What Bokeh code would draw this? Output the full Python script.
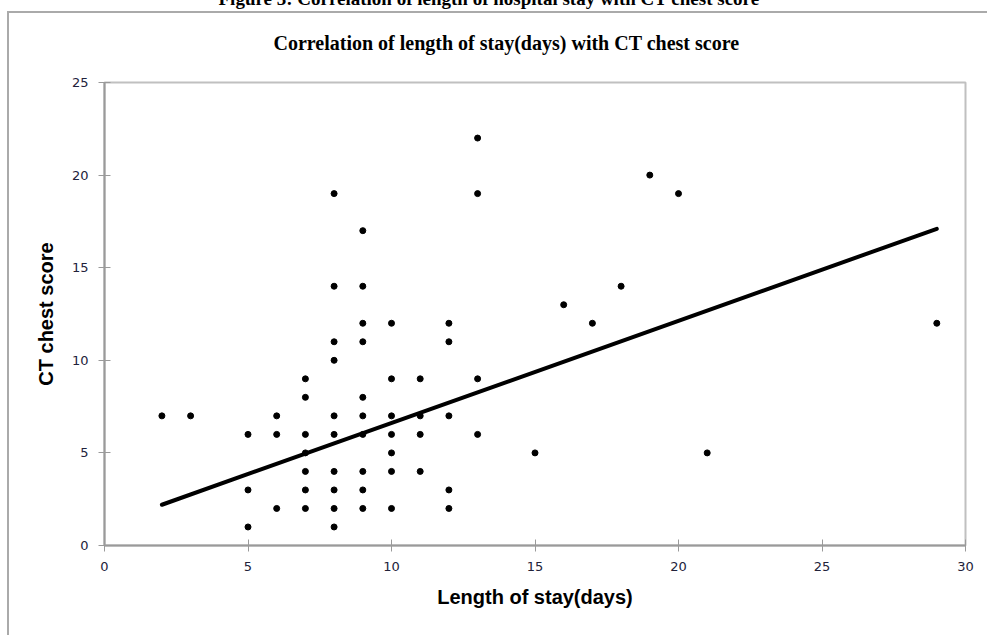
from bokeh.plotting import figure
from bokeh.models import Title, FixedTicker, Range1d, InlineStyleSheet
from bokeh.embed import file_html
from bokeh.resources import INLINE

# Data: (length of stay, CT chest score)
stay_days = [2, 3, 5, 5, 5, 6, 6, 6,
             7, 7, 7, 7, 7, 7, 7,
             8, 8, 8, 8, 8, 8, 8, 8, 8, 8,
             9, 9, 9, 9, 9, 9, 9, 9, 9, 9,
             10, 10, 10, 10, 10, 10, 10,
             11, 11, 11, 11,
             12, 12, 12, 12, 12,
             13, 13, 13, 13,
             15, 16, 17, 18, 19, 20, 21, 29]
ct_score = [7, 7, 6, 3, 1, 7, 6, 2,
            9, 8, 6, 5, 4, 3, 2,
            19, 14, 11, 10, 7, 6, 4, 3, 2, 1,
            17, 14, 12, 11, 8, 7, 6, 4, 3, 2,
            12, 9, 7, 6, 5, 4, 2,
            9, 7, 6, 4,
            12, 11, 7, 3, 2,
            22, 19, 9, 6,
            5, 13, 12, 14, 20, 19, 5, 12]

# Linear trend line as drawn in the picture (end points)
trend_x = [2, 29]
trend_y = [2.2, 17.1]

x_ticks = [0, 5, 10, 15, 20, 25, 30]
y_ticks = [0, 5, 10, 15, 20, 25]

chart_title = "Correlation of length of stay(days)  with CT chest score"
caption = "Figure 3: Correlation of length of hospital stay with CT chest score"

W, H = 987, 635
p = figure(width=W, height=H, output_backend="svg", toolbar_location=None,
           x_range=Range1d(0, 30), y_range=Range1d(0, 25),
           min_border_left=104, min_border_right=22,
           min_border_top=0, min_border_bottom=90)
p.background_fill_color = "white"
p.border_fill_color = "white"
p.outline_line_color = "#c0c0c0"
p.outline_line_width = 2
p.grid.visible = False

for ax, ticks in ((p.xaxis[0], x_ticks), (p.yaxis[0], y_ticks)):
    ax.ticker = FixedTicker(ticks=ticks)
    ax.minor_tick_line_color = None
    ax.axis_line_color = "#9a9a9a"
    ax.axis_line_width = 2
    ax.major_tick_line_color = "#9a9a9a"
    ax.major_tick_line_width = 1
    ax.major_tick_in = 6
    ax.major_tick_out = 6
    ax.major_label_text_font = "DejaVu Sans"
    ax.major_label_text_font_size = "13px"
    ax.major_label_text_color = "#22223a"
    ax.axis_label_text_font = "Liberation Sans"
    ax.axis_label_text_font_style = "bold"
    ax.axis_label_text_font_size = "20px"
    ax.axis_label_text_color = "black"

p.xaxis[0].axis_label = "Length of stay(days)"
p.yaxis[0].axis_label = "CT chest score"
p.xaxis[0].major_label_standoff = 10
p.yaxis[0].major_label_standoff = 10
p.xaxis[0].axis_label_standoff = 12
p.yaxis[0].axis_label_standoff = 12

p.line(trend_x, trend_y, line_color="black", line_width=4, line_cap="round")
p.scatter(stay_days, ct_score, size=6, fill_color="black", line_color="black")

p.add_layout(Title(text=chart_title, align="left", offset=169,
                   text_font="Liberation Serif", text_font_style="bold",
                   text_font_size="20px", text_color="black", standoff=58), "above")
p.add_layout(Title(text=caption, align="left", offset=114, vertical_align="top",
                   text_font="Liberation Serif", text_font_style="bold",
                   text_font_size="19px", text_color="black", standoff=-26), "above")

# Outer chart border (left and top edges)
p.stylesheets = [InlineStyleSheet(css="""
:host { position: relative; }
:host::after { content: ''; position: absolute; left: 7px; top: 11px; right: 0; bottom: 0;
  border-left: 2px solid #aaaaaa; border-top: 2px solid #aaaaaa; pointer-events: none; }
""")]

open("out.html", "w").write(file_html(p, INLINE))
